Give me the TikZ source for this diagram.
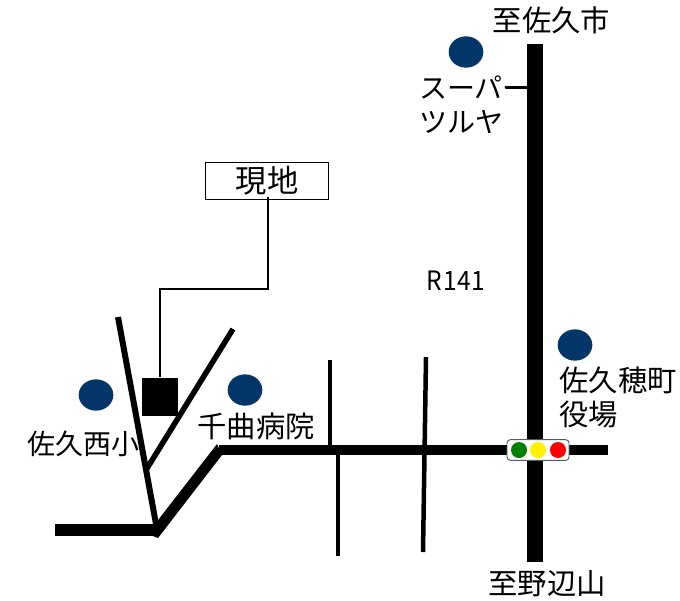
\documentclass[tikz,border=0pt]{standalone}
\usepackage{fontspec}
\newfontfamily\cjk{Noto Sans CJK JP}
\tikzset{
  px/.style={x=0.75pt,y=-0.75pt},
  road/.style={draw=black,line width=10.5pt*0.75,line cap=butt},
  thin road/.style={draw=black,line width=4.5pt*0.75},
  leader/.style={draw=black,line width=1pt},
  lbl/.style={font=\cjk\fontsize{22}{25.5}\selectfont,inner sep=0pt,align=left,text=black},
  small lbl/.style={lbl,font=\cjk\fontsize{21}{25.5}\selectfont},
  spot/.style={ellipse,fill=spotblue,minimum width=26pt,minimum height=23.5pt,inner sep=0pt,draw=none},
  lamp/.style={circle,minimum size=12pt,inner sep=0pt,draw=none},
}
\definecolor{spotblue}{RGB}{3,53,104}
\usetikzlibrary{shapes.geometric}
\begin{document}
\begin{tikzpicture}[px]
\useasboundingbox (0,0) rectangle (680,600);
% coordinates
\coordinate (n) at (535,44);
\coordinate (s) at (535,562);
\coordinate (e) at (608,450);
\coordinate (bend) at (219,450);
\coordinate (corner) at (155,530);
\coordinate (w) at (55,530);
\coordinate (a1) at (118,317);
\coordinate (a2) at (156,524);
\coordinate (b1) at (233,329);
\coordinate (b2) at (146,470);
\coordinate (c1) at (330,360);
\coordinate (c2) at (330,450);
\coordinate (d1) at (338,450);
\coordinate (d2) at (338,556);
\coordinate (f1) at (426,357);
\coordinate (f2) at (423,552);
% roads
\draw[road,line width=12pt*0.75] (w) -- (corner);
\fill[black] (155,524) -- (217,444) -- (222,455) -- (158,538) -- (153,536) -- cycle;
\draw[road] (bend) -- (e);
\draw[road,line width=15.5pt*0.75] (n) -- (s);
\draw[thin road,line width=6pt*0.75] (a1) -- (a2);
\draw[thin road,line width=5.5pt*0.75] (b1) -- (b2);
\draw[thin road] (c1) -- (c2);
\draw[thin road] (d1) -- (d2);
\draw[thin road] (f1) -- (f2);
% site
\node[draw=black,line width=1pt,minimum width=92pt,minimum height=28pt,inner sep=0pt,font=\cjk\fontsize{23.5}{27}\selectfont] (site) at (267,181) {現地};
\node[fill=black,minimum width=26.5pt,minimum height=29pt,inner sep=0pt] (sq) at (160,397) {};
\draw[leader] (268,197) -- (268,289) -- (160,289) -- (sq.north);
% spots
\node[spot] (s1) at (466,52) {};
\node[spot] (s2) at (575,345) {};
\node[spot] (s3) at (96,395) {};
\node[spot] (s4) at (245,390) {};
% labels
\node[lbl] (tn) at (551.5,20) {至佐久市};
\node[lbl] (ts) at (547,584) {至野辺山};
\node[small lbl] (super) at (475,105) {スーパー\\ツルヤ};
\coordinate (st) at (528,88);
\draw[line width=2pt] (506,88) -- (st);
\node[lbl] (hoho) at (618,397) {佐久穂町\\役場};
\node[small lbl] (nishi) at (83,444) {佐久西小};
\node[lbl] (hosp) at (256,426) {千曲病院};
\node[font=\cjk\fontsize{20}{22}\selectfont,inner sep=0pt,xscale=0.92] (r) at (455.5,281) {R\kern1.5pt 141};
% signal
\node[draw=black!65,fill=white,rounded corners=2.5pt,line width=0.7pt,minimum width=46.5pt,minimum height=15.5pt,inner sep=0pt] (sig) at (538,450) {};
\node[lamp,fill=green!50!black] (l1) at (519,450) {};
\node[lamp,fill=yellow] (l2) at (538,450) {};
\node[lamp,fill=red] (l3) at (558,450) {};
\end{tikzpicture}
\end{document}
